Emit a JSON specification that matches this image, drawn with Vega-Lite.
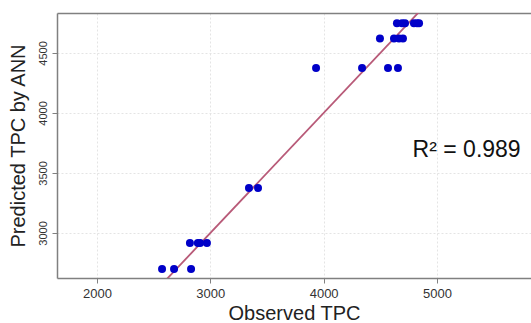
{
  "$schema": "https://vega.github.io/schema/vega-lite/v6.json",
  "width": 474,
  "height": 265,
  "autosize": {"type": "none"},
  "padding": {"left": 57, "top": 13, "right": 0, "bottom": 45},
  "background": "white",
  "config": {
    "view": {"stroke": null},
    "font": "Liberation Sans",
    "axis": {
      "labelFont": "Liberation Sans",
      "titleFont": "Liberation Sans",
      "labelColor": "#333333",
      "titleColor": "#222222",
      "titleFontWeight": "normal",
      "domainColor": "#808080",
      "domainWidth": 1.5,
      "tickColor": "#808080",
      "tickSize": 5,
      "gridColor": "#e4e4e4",
      "gridDash": [2, 2],
      "gridWidth": 1
    }
  },
  "datasets": {
    "pts": [
      {"observed": 2574, "predicted": 2700},
      {"observed": 2680, "predicted": 2700},
      {"observed": 2830, "predicted": 2700},
      {"observed": 2820, "predicted": 2917},
      {"observed": 2890, "predicted": 2917},
      {"observed": 2910, "predicted": 2917},
      {"observed": 2970, "predicted": 2917},
      {"observed": 3341, "predicted": 3375},
      {"observed": 3421, "predicted": 3375},
      {"observed": 3933, "predicted": 4375},
      {"observed": 4339, "predicted": 4375},
      {"observed": 4568, "predicted": 4375},
      {"observed": 4656, "predicted": 4375},
      {"observed": 4497, "predicted": 4620},
      {"observed": 4621, "predicted": 4620},
      {"observed": 4665, "predicted": 4620},
      {"observed": 4700, "predicted": 4620},
      {"observed": 4647, "predicted": 4747},
      {"observed": 4692, "predicted": 4747},
      {"observed": 4718, "predicted": 4747},
      {"observed": 4797, "predicted": 4747},
      {"observed": 4824, "predicted": 4747},
      {"observed": 4842, "predicted": 4747}
    ],
    "fit": [
      {"observed": 2500, "predicted": 2500},
      {"observed": 5000, "predicted": 5000}
    ],
    "note": [
      {"observed": 5262, "predicted": 3690, "label": "R² = 0.989"}
    ]
  },
  "layer": [
    {
      "data": {"name": "fit"},
      "mark": {"type": "line", "color": "#b85a78", "strokeWidth": 1.8, "clip": true},
      "encoding": {
        "x": {
          "field": "observed", "type": "quantitative",
          "scale": {"domain": [1647, 5830], "nice": false, "zero": false},
          "axis": {"orient": "top", "labels": false, "ticks": false, "grid": false, "title": null, "domain": true}
        },
        "y": {
          "field": "predicted", "type": "quantitative",
          "scale": {"domain": [2625, 4833], "nice": false, "zero": false},
          "axis": {
            "title": "Predicted TPC by ANN",
            "titleFontSize": 20,
            "titlePadding": 9,
            "labelFontSize": 11,
            "labelAngle": -90,
            "labelPadding": 4,
            "format": "d",
            "grid": true,
            "values": [3000, 3500, 4000, 4500]
          }
        }
      }
    },
    {
      "data": {"name": "pts"},
      "mark": {"type": "circle", "color": "#0000c8", "opacity": 1, "size": 64},
      "encoding": {
        "x": {
          "field": "observed", "type": "quantitative",
          "axis": {
            "orient": "bottom",
            "title": "Observed TPC",
            "titleFontSize": 20,
            "titlePadding": 3,
            "labelFontSize": 13,
            "labelPadding": 4,
            "format": "d",
            "grid": true,
            "values": [2000, 3000, 4000, 5000]
          }
        },
        "y": {"field": "predicted", "type": "quantitative"}
      }
    },
    {
      "data": {"name": "note"},
      "mark": {"type": "text", "fontSize": 23, "align": "center", "baseline": "middle", "color": "#111111", "font": "Liberation Sans"},
      "encoding": {
        "x": {"field": "observed", "type": "quantitative", "axis": null},
        "y": {"field": "predicted", "type": "quantitative"},
        "text": {"field": "label"}
      }
    }
  ],
  "resolve": {"axis": {"x": "independent"}}
}
